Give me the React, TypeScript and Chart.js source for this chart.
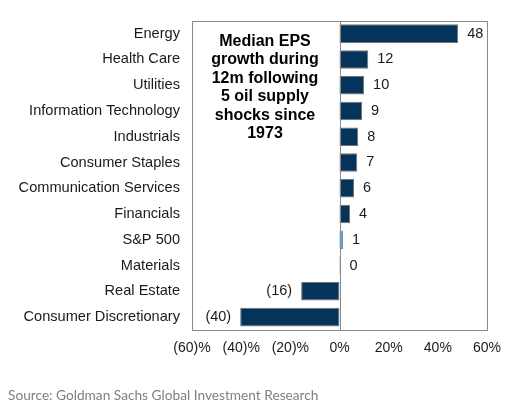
import { useEffect, useRef } from 'react';
import { Chart, registerables } from 'chart.js';

Chart.register(...registerables);

const sectors = [
  'Energy',
  'Health Care',
  'Utilities',
  'Information Technology',
  'Industrials',
  'Consumer Staples',
  'Communication Services',
  'Financials',
  'S&P 500',
  'Materials',
  'Real Estate',
  'Consumer Discretionary',
];
// bar lengths; labels show them rounded
const epsGrowth = [48.3, 11.7, 10.0, 9.2, 7.6, 7.2, 5.9, 4.3, 1.4, 0.2, -15.6, -40.4];
const axisTicks = [-60, -40, -20, 0, 20, 40, 60];
const noteLines = ['Median EPS', 'growth during', '12m following', '5 oil supply', 'shocks since', '1973'];
const source = 'Source: Goldman Sachs Global Investment Research';

const NAVY = '#05335a';
const LIGHT = '#5ba3de';
const EDGE = '#737373';
const FONT = '"Liberation Sans", Arial, sans-serif';

const fmt = (v: number) => (v < 0 ? `(${-v})` : `${v}`);

// frame around plot area, zero line and value labels
const extras = {
  id: 'extras',
  afterDatasetsDraw(chart: any) {
    const { ctx, chartArea: a, scales } = chart;
    ctx.save();
    ctx.strokeStyle = '#8a8a8a';
    ctx.lineWidth = 1;
    ctx.strokeRect(Math.round(a.left) + 0.5, Math.round(a.top) + 0.5, Math.round(a.right - a.left), Math.round(a.bottom - a.top));
    const x0 = Math.round(scales.x.getPixelForValue(0)) + 0.5;
    ctx.beginPath();
    ctx.moveTo(x0, a.top);
    ctx.lineTo(x0, a.bottom);
    ctx.stroke();

    ctx.font = `14.5px ${FONT}`;
    ctx.fillStyle = '#1a1a1a';
    ctx.textBaseline = 'middle';
    const meta = chart.getDatasetMeta(0);
    meta.data.forEach((bar: any, i: number) => {
      const v = Math.round(epsGrowth[i]);
      if (v < 0) {
        ctx.textAlign = 'right';
        ctx.fillText(fmt(v), bar.x - 9, bar.y);
      } else {
        ctx.textAlign = 'left';
        ctx.fillText(fmt(v), Math.max(bar.x, x0) + 9, bar.y);
      }
    });
    ctx.restore();
  },
};

export default function App() {
  const canvasRef = useRef<HTMLCanvasElement>(null);

  useEffect(() => {
    const chart = new Chart(canvasRef.current as HTMLCanvasElement, {
      type: 'bar',
      data: {
        labels: sectors,
        datasets: [
          {
            data: epsGrowth,
            backgroundColor: sectors.map((s) => (s === 'S&P 500' ? LIGHT : NAVY)),
            borderColor: sectors.map((s) => (s === 'S&P 500' ? '#4a8cc4' : EDGE)),
            borderWidth: 1,
            borderSkipped: false,
            categoryPercentage: 1,
            barPercentage: 0.72,
          },
        ],
      },
      options: {
        indexAxis: 'y',
        animation: false,
        responsive: true,
        maintainAspectRatio: false,
        layout: { padding: { top: 15, right: 31, bottom: 47, left: 0 } },
        plugins: { legend: { display: false }, tooltip: { enabled: false } },
        scales: {
          x: {
            min: -60,
            max: 60,
            afterBuildTicks: (scale: any) => {
              scale.ticks = axisTicks.map((value) => ({ value }));
            },
            afterFit: (scale: any) => {
              scale.height = 30;
            },
            grid: { display: false, drawTicks: false },
            border: { display: false },
            ticks: {
              padding: 10,
              color: '#1a1a1a',
              font: { family: FONT, size: 14 },
              callback: (v: any) => `${fmt(Number(v))}%`,
            },
          },
          y: {
            afterFit: (scale: any) => {
              scale.width = 192;
            },
            grid: { display: false, drawTicks: false },
            border: { display: false },
            ticks: {
              padding: 12,
              color: '#1a1a1a',
              font: { family: FONT, size: 14.6 },
            },
          },
        },
      },
      plugins: [extras],
    });
    return () => chart.destroy();
  }, []);

  return (
    <div style={{ position: 'fixed', left: 0, top: 0, width: 518, height: 407, background: '#fff' }}>
      <canvas ref={canvasRef} />
      <div
        style={{
          position: 'absolute',
          left: 193,
          width: 144,
          top: 32,
          textAlign: 'center',
          fontFamily: FONT,
          fontWeight: 'bold',
          fontSize: 16,
          lineHeight: '18.4px',
          color: '#000',
        }}
      >
        {noteLines.map((l) => (
          <div key={l}>{l}</div>
        ))}
      </div>
      <div
        style={{
          position: 'absolute',
          left: 8,
          top: 386,
          fontFamily: 'Lato, sans-serif',
          fontSize: 13.7,
          color: '#7f7f7f',
          whiteSpace: 'nowrap',
        }}
      >
        {source}
      </div>
    </div>
  );
}
